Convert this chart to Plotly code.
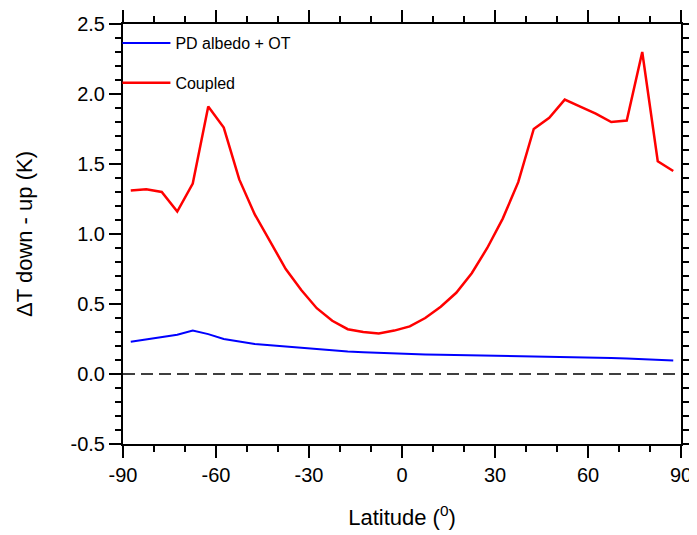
import plotly.graph_objects as go

lat = [-87.5, -82.5, -77.5, -72.5, -67.5, -62.5, -57.5, -52.5, -47.5, -42.5,
       -37.5, -32.5, -27.5, -22.5, -17.5, -12.5, -7.5, -2.5, 2.5, 7.5,
       12.5, 17.5, 22.5, 27.5, 32.5, 37.5, 42.5, 47.5, 52.5, 57.5,
       62.5, 67.5, 72.5, 77.5, 82.5, 87.5]

pd_albedo_ot = [0.23, 0.245, 0.26, 0.28, 0.31, 0.285, 0.25, 0.23, 0.215, 0.205,
                0.195, 0.185, 0.175, 0.167, 0.16, 0.155, 0.15, 0.145, 0.142, 0.14,
                0.138, 0.136, 0.134, 0.132, 0.13, 0.128, 0.126, 0.125, 0.124, 0.124,
                0.12, 0.115, 0.11, 0.105, 0.1, 0.097]

coupled = [1.31, 1.32, 1.30, 1.16, 1.36, 1.91, 1.76, 1.39, 1.14, 0.94,
           0.75, 0.60, 0.47, 0.38, 0.32, 0.30, 0.29, 0.31, 0.34, 0.40,
           0.48, 0.58, 0.72, 0.90, 1.11, 1.37, 1.75, 1.83, 1.96, 1.91,
           1.86, 1.80, 1.81, 2.30, 1.52, 1.45]

x_ticks = [-90, -60, -30, 0, 30, 60, 90]
y_ticks = [-0.5, 0.0, 0.5, 1.0, 1.5, 2.0, 2.5]

fig = go.Figure()
fig.add_trace(go.Scatter(x=lat, y=pd_albedo_ot, mode="lines", name="PD albedo + OT",
                         legendgroup="a", line=dict(color="blue", width=2)))
fig.add_trace(go.Scatter(x=lat, y=coupled, mode="lines", name="Coupled",
                         legendgroup="b", line=dict(color="red", width=2.5)))
fig.add_hline(y=0, line=dict(color="black", width=1.3, dash="12px,6px"))

axis_common = dict(
    showgrid=False, zeroline=False, showline=True, linecolor="black", linewidth=2,
    mirror="allticks", ticks="outside", ticklen=12, tickwidth=1.5, tickcolor="black",
    tickfont=dict(size=20, color="black"), automargin=False,
)
fig.update_xaxes(range=[-90, 90], tickvals=x_ticks, ticktext=[str(v) for v in x_ticks],
                 minor=dict(ticks="outside", ticklen=6, dtick=10, tickcolor="black"),
                 title=dict(text="Latitude (<sup>0</sup>)", font=dict(size=22, color="black"),
                            standoff=25),
                 **axis_common)
fig.update_yaxes(range=[-0.5, 2.5], tickvals=y_ticks, ticktext=[f"{v:.1f}" for v in y_ticks],
                 minor=dict(ticks="outside", ticklen=6, dtick=0.1, tickcolor="black"),
                 title=dict(text="ΔT down - up (K)", font=dict(size=22, color="black"),
                            standoff=32),
                 **axis_common)

fig.update_layout(
    width=697, height=535,
    margin=dict(l=115, r=24, t=16, b=99),
    plot_bgcolor="white", paper_bgcolor="white",
    font=dict(family="Liberation Sans, Arial, sans-serif"),
    legend=dict(x=-0.01, y=0.995, xanchor="left", yanchor="top", bgcolor="rgba(0,0,0,0)",
                font=dict(size=16, color="black"), itemwidth=48, tracegroupgap=16),
)

fig.write_html("out.html")
